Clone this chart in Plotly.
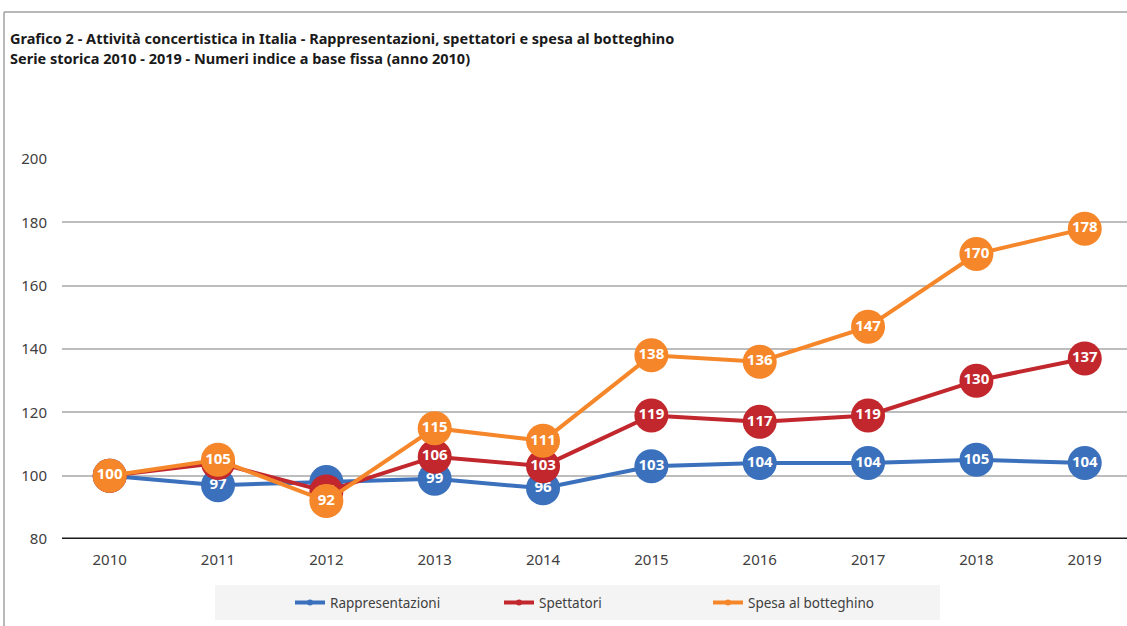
import plotly.graph_objects as go

years = ["2010", "2011", "2012", "2013", "2014", "2015", "2016", "2017", "2018", "2019"]
rappresentazioni = [100, 97, 98, 99, 96, 103, 104, 104, 105, 104]
spettatori = [100, 104, 95, 106, 103, 119, 117, 119, 130, 137]
spesa = [100, 105, 92, 115, 111, 138, 136, 147, 170, 178]
series_names = ["Rappresentazioni", "Spettatori", "Spesa al botteghino"]
y_ticks = [80, 100, 120, 140, 160, 180, 200]

colors = ["#3A70BC", "#C1272D", "#F5872A"]
FONT = "Noto Sans, sans-serif"

fig = go.Figure()
xs = list(range(len(years)))
for name, vals, col in zip(series_names, [rappresentazioni, spettatori, spesa], colors):
    fig.add_trace(go.Scatter(
        x=xs, y=vals, mode="lines+markers+text", name=name,
        line=dict(color=col, width=4),
        marker=dict(color=col, size=34),
        text=[str(v) for v in vals], textposition="middle center",
        textfont=dict(color="white", size=15, family="Open Sans, sans-serif", weight="bold"),
        showlegend=False, cliponaxis=False, hoverinfo="skip",
    ))
for name, col in zip(series_names, colors):
    fig.add_trace(go.Scatter(
        x=[None], y=[None], mode="lines+markers", name=name,
        line=dict(color=col, width=4), marker=dict(color=col, size=6),
    ))

fig.update_layout(
    width=1127, height=626,
    paper_bgcolor="white", plot_bgcolor="white",
    margin=dict(l=62, r=0, t=159, b=87),
    font=dict(family=FONT, color="#404040"),
    xaxis=dict(
        range=[-0.44, 9.39], tickmode="array", tickvals=xs, ticktext=years,
        showgrid=False, zeroline=False, showline=False,
        tickfont=dict(size=15, color="#404040", family=FONT), ticks="", ticklabelstandoff=10,
    ),
    yaxis=dict(
        range=[80, 200], tickvals=y_ticks, showgrid=True, gridcolor="#BDBDBD", gridwidth=2,
        zeroline=False, showline=False, ticks="",
        tickfont=dict(size=15, color="#404040", family=FONT), ticklabelstandoff=14,
    ),
    legend=dict(
        orientation="h", xref="container", yref="container", x=290 / 1127, y=0.037,
        xanchor="left", yanchor="middle", bgcolor="rgba(0,0,0,0)",
        font=dict(size=13.5, color="#404040", family=FONT),
        entrywidth=164, entrywidthmode="pixels", itemwidth=30,
    ),
    shapes=[
        dict(type="line", xref="paper", yref="y", x0=0, x1=1, y0=80, y1=80,
             line=dict(color="#1A1A1A", width=3)),
        dict(type="rect", xref="paper", yref="paper", x0=(215 - 62) / 1065, x1=(940 - 62) / 1065,
             y0=(539 - 620) / 380, y1=(539 - 585) / 380, fillcolor="#F4F4F4", line=dict(width=0),
             layer="below"),
        dict(type="line", xref="paper", yref="paper", x0=-58 / 1065, x1=-58 / 1065,
             y0=-87 / 380, y1=(539 - 12) / 380, line=dict(color="#A0A0A0", width=1.5)),
        dict(type="line", xref="paper", yref="paper", x0=-58 / 1065, x1=1,
             y0=(539 - 12) / 380, y1=(539 - 12) / 380, line=dict(color="#A0A0A0", width=1.5)),
    ],
    annotations=[
        dict(xref="paper", yref="paper", x=-54 / 1065, y=(539 - 38) / 380, xanchor="left", yanchor="middle",
             text="<b>Grafico 2 - Attività concertistica in Italia - Rappresentazioni, spettatori e spesa al botteghino</b>",
             showarrow=False, font=dict(size=14.5, color="#1A1A1A", family=FONT)),
        dict(xref="paper", yref="paper", x=-54 / 1065, y=(539 - 58) / 380, xanchor="left", yanchor="middle",
             text="<b>Serie storica 2010 - 2019 - Numeri indice a base fissa (anno 2010)</b>",
             showarrow=False, font=dict(size=14.5, color="#1A1A1A", family=FONT)),
    ],
)

fig.write_html("out.html", config={"displayModeBar": False},
               post_script="document.body.style.margin='0';document.body.style.padding='0';")
